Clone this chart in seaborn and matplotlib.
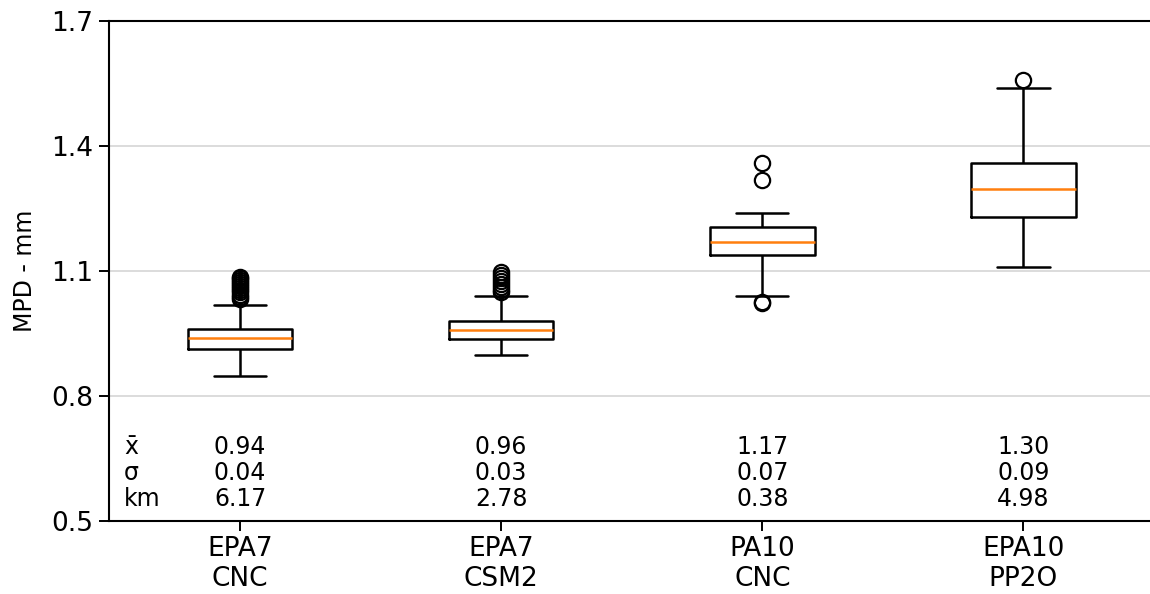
import numpy as np
import pandas as pd
import matplotlib
matplotlib.use("Agg")
import matplotlib.pyplot as plt
import seaborn as sns

SECTIONS = ["EPA7\nCNC", "EPA7\nCSM2", "PA10\nCNC", "EPA10\nPP2O"]

# box statistics (MPD, mm)
WHISLO = [0.848, 0.898, 1.040, 1.109]
Q1 = [0.913, 0.9375, 1.138, 1.229]
MEDIAN = [0.938, 0.958, 1.169, 1.2975]
Q3 = [0.960, 0.980, 1.206, 1.358]
WHISHI = [1.018, 1.039, 1.238, 1.538]
LOW_OUTLIERS = [[], [], [1.022, 1.026], []]
HIGH_OUTLIERS = [
    [1.033, 1.038, 1.043, 1.049, 1.054, 1.058, 1.063, 1.068, 1.073, 1.078, 1.082, 1.086],
    [1.049, 1.055, 1.061, 1.068, 1.075, 1.082, 1.090, 1.098],
    [1.318, 1.358],
    [1.558],
]

# summary rows printed under the boxes
MEAN = ["0.94", "0.96", "1.17", "1.30"]
STD = ["0.04", "0.03", "0.07", "0.09"]
KM = ["6.17", "2.78", "0.38", "4.98"]


def sample_from_stats(lo, q1, med, q3, hi, low_out, high_out):
    """Sample whose linear-interpolated quartiles hit the given box stats."""
    k = max(len(low_out), len(high_out)) + 1
    return (list(low_out) + [lo] * (k - len(low_out)) + [q1] * k + [med]
            + [q3] * k + [hi] * (k - len(high_out)) + list(high_out))


rows = []
for i, name in enumerate(SECTIONS):
    vals = sample_from_stats(WHISLO[i], Q1[i], MEDIAN[i], Q3[i], WHISHI[i],
                             LOW_OUTLIERS[i], HIGH_OUTLIERS[i])
    rows += [(name, v) for v in vals]
df = pd.DataFrame(rows, columns=["section", "mpd"])

sns.set_style("ticks")
plt.rcParams["font.family"] = ["DejaVu Sans"]
plt.rcParams["text.color"] = "black"
plt.rcParams["axes.labelcolor"] = "black"

fig = plt.figure(figsize=(11.5, 5.94), dpi=100)
ax = fig.add_axes([0.0952, 0.1229, 0.9083, 0.8418])

sns.boxplot(
    data=df, x="section", y="mpd", order=SECTIONS, ax=ax,
    width=0.4, fill=False, color="black", linecolor="black", linewidth=1.8,
    medianprops=dict(color="#ff7f0e", linewidth=1.8),
    flierprops=dict(marker="o", markersize=11, markerfacecolor="none",
                    markeredgecolor="black", markeredgewidth=1.6),
)

ax.set_xlim(-0.5, 3.5)
ax.set_ylim(0.5, 1.7)
ax.set_yticks([0.5, 0.8, 1.1, 1.4, 1.7])
ax.set_yticklabels([f"{t:.1f}" for t in [0.5, 0.8, 1.1, 1.4, 1.7]])
ax.yaxis.grid(True, color="#d9d9d9", linewidth=1.3)
ax.set_axisbelow(True)
ax.set_xlabel("")
ax.set_ylabel("MPD - mm", fontsize=17, labelpad=10)
ax.tick_params(labelsize=19, length=7, width=1.4, colors="black")
ax.tick_params(axis="y", pad=5)
ax.spines["right"].set_visible(False)
for sp in ax.spines.values():
    sp.set_linewidth(1.5)
    sp.set_color("black")

# stats table inside the axes
for label, vals, y in [("x\u0304", MEAN, 0.678), ("\u03c3", STD, 0.616), ("km", KM, 0.553)]:
    ax.text(-0.445, y, label, fontsize=17, ha="left", va="center")
    for i, v in enumerate(vals):
        ax.text(i, y, v, fontsize=17, ha="center", va="center")

fig.savefig("out.png", dpi=100)
